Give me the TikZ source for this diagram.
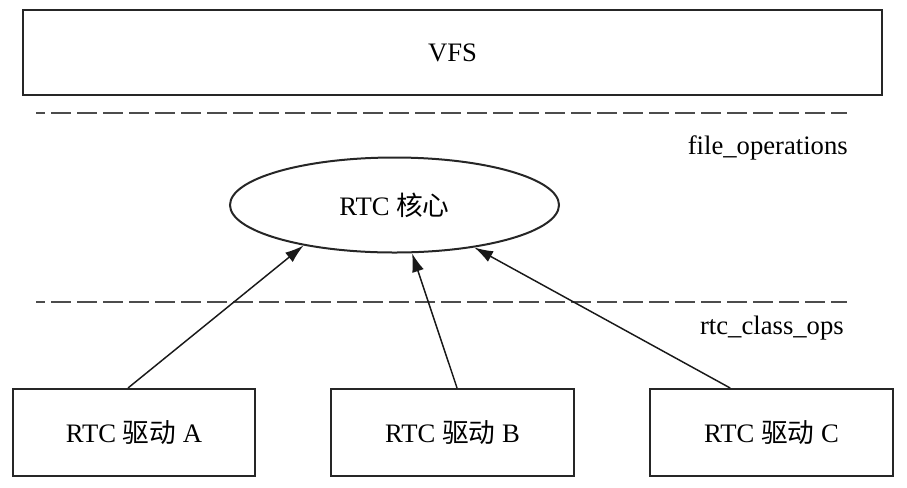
\documentclass[tikz,border=0pt]{standalone}
\usepackage{fontspec}
\setmainfont{Liberation Serif}
\newfontfamily\cjk{Noto Sans CJK SC}
\usetikzlibrary{shapes.geometric,arrows.meta}

\begin{document}
\begin{tikzpicture}[x=0.75pt,y=-0.75pt,
		font=\fontsize{20}{24}\selectfont,
		box/.style={draw=black!85, line width=1.5pt, inner sep=0pt},
		sep/.style={draw=black!70, line width=2.2pt, dash pattern=on 15pt off 4.5pt, dash phase=8.25pt},
		arr/.style={draw=black!90, line width=1.1pt, -{Latex[length=14pt,width=9pt]}}]
				\useasboundingbox (0,0) rectangle (907,487);
				\node[box, minimum width=644.25pt, minimum height=63.75pt] (vfs) at (452.5,52.5) {VFS};
				\coordinate (s1a) at (36,113);
				\coordinate (s1b) at (847,113);
				\draw[sep] (s1a) -- (s1b);
				\node[anchor=east, inner sep=0pt] (fops) at (848,148) {file\_operations};
				\node[box, ellipse, minimum width=246.75pt, minimum height=71.25pt] (core) at (394.5,205) {RTC {\cjk 核心}};
				\coordinate (s2a) at (36,302);
				\coordinate (s2b) at (847,302);
				\draw[sep] (s2a) -- (s2b);
				\node[anchor=east, inner sep=0pt] (rops) at (844,328) {rtc\_class\_ops};
				\node[box, minimum width=181.5pt, minimum height=65.25pt] (drvA) at (134,432.5) {RTC {\cjk 驱动} A};
				\node[box, minimum width=182.25pt, minimum height=65.25pt] (drvB) at (452.5,432.5) {RTC {\cjk 驱动} B};
				\node[box, minimum width=182.25pt, minimum height=65.25pt] (drvC) at (771.5,432.5) {RTC {\cjk 驱动} C};
				\draw[arr] ([xshift=-4.5pt]drvA.north) -- (core.204);
				\draw[arr] ([xshift=3.4pt]drvB.north) -- (core.290);
				\draw[arr] ([xshift=-31pt]drvC.north) -- (core.332);
			\end{tikzpicture}
\end{document}
